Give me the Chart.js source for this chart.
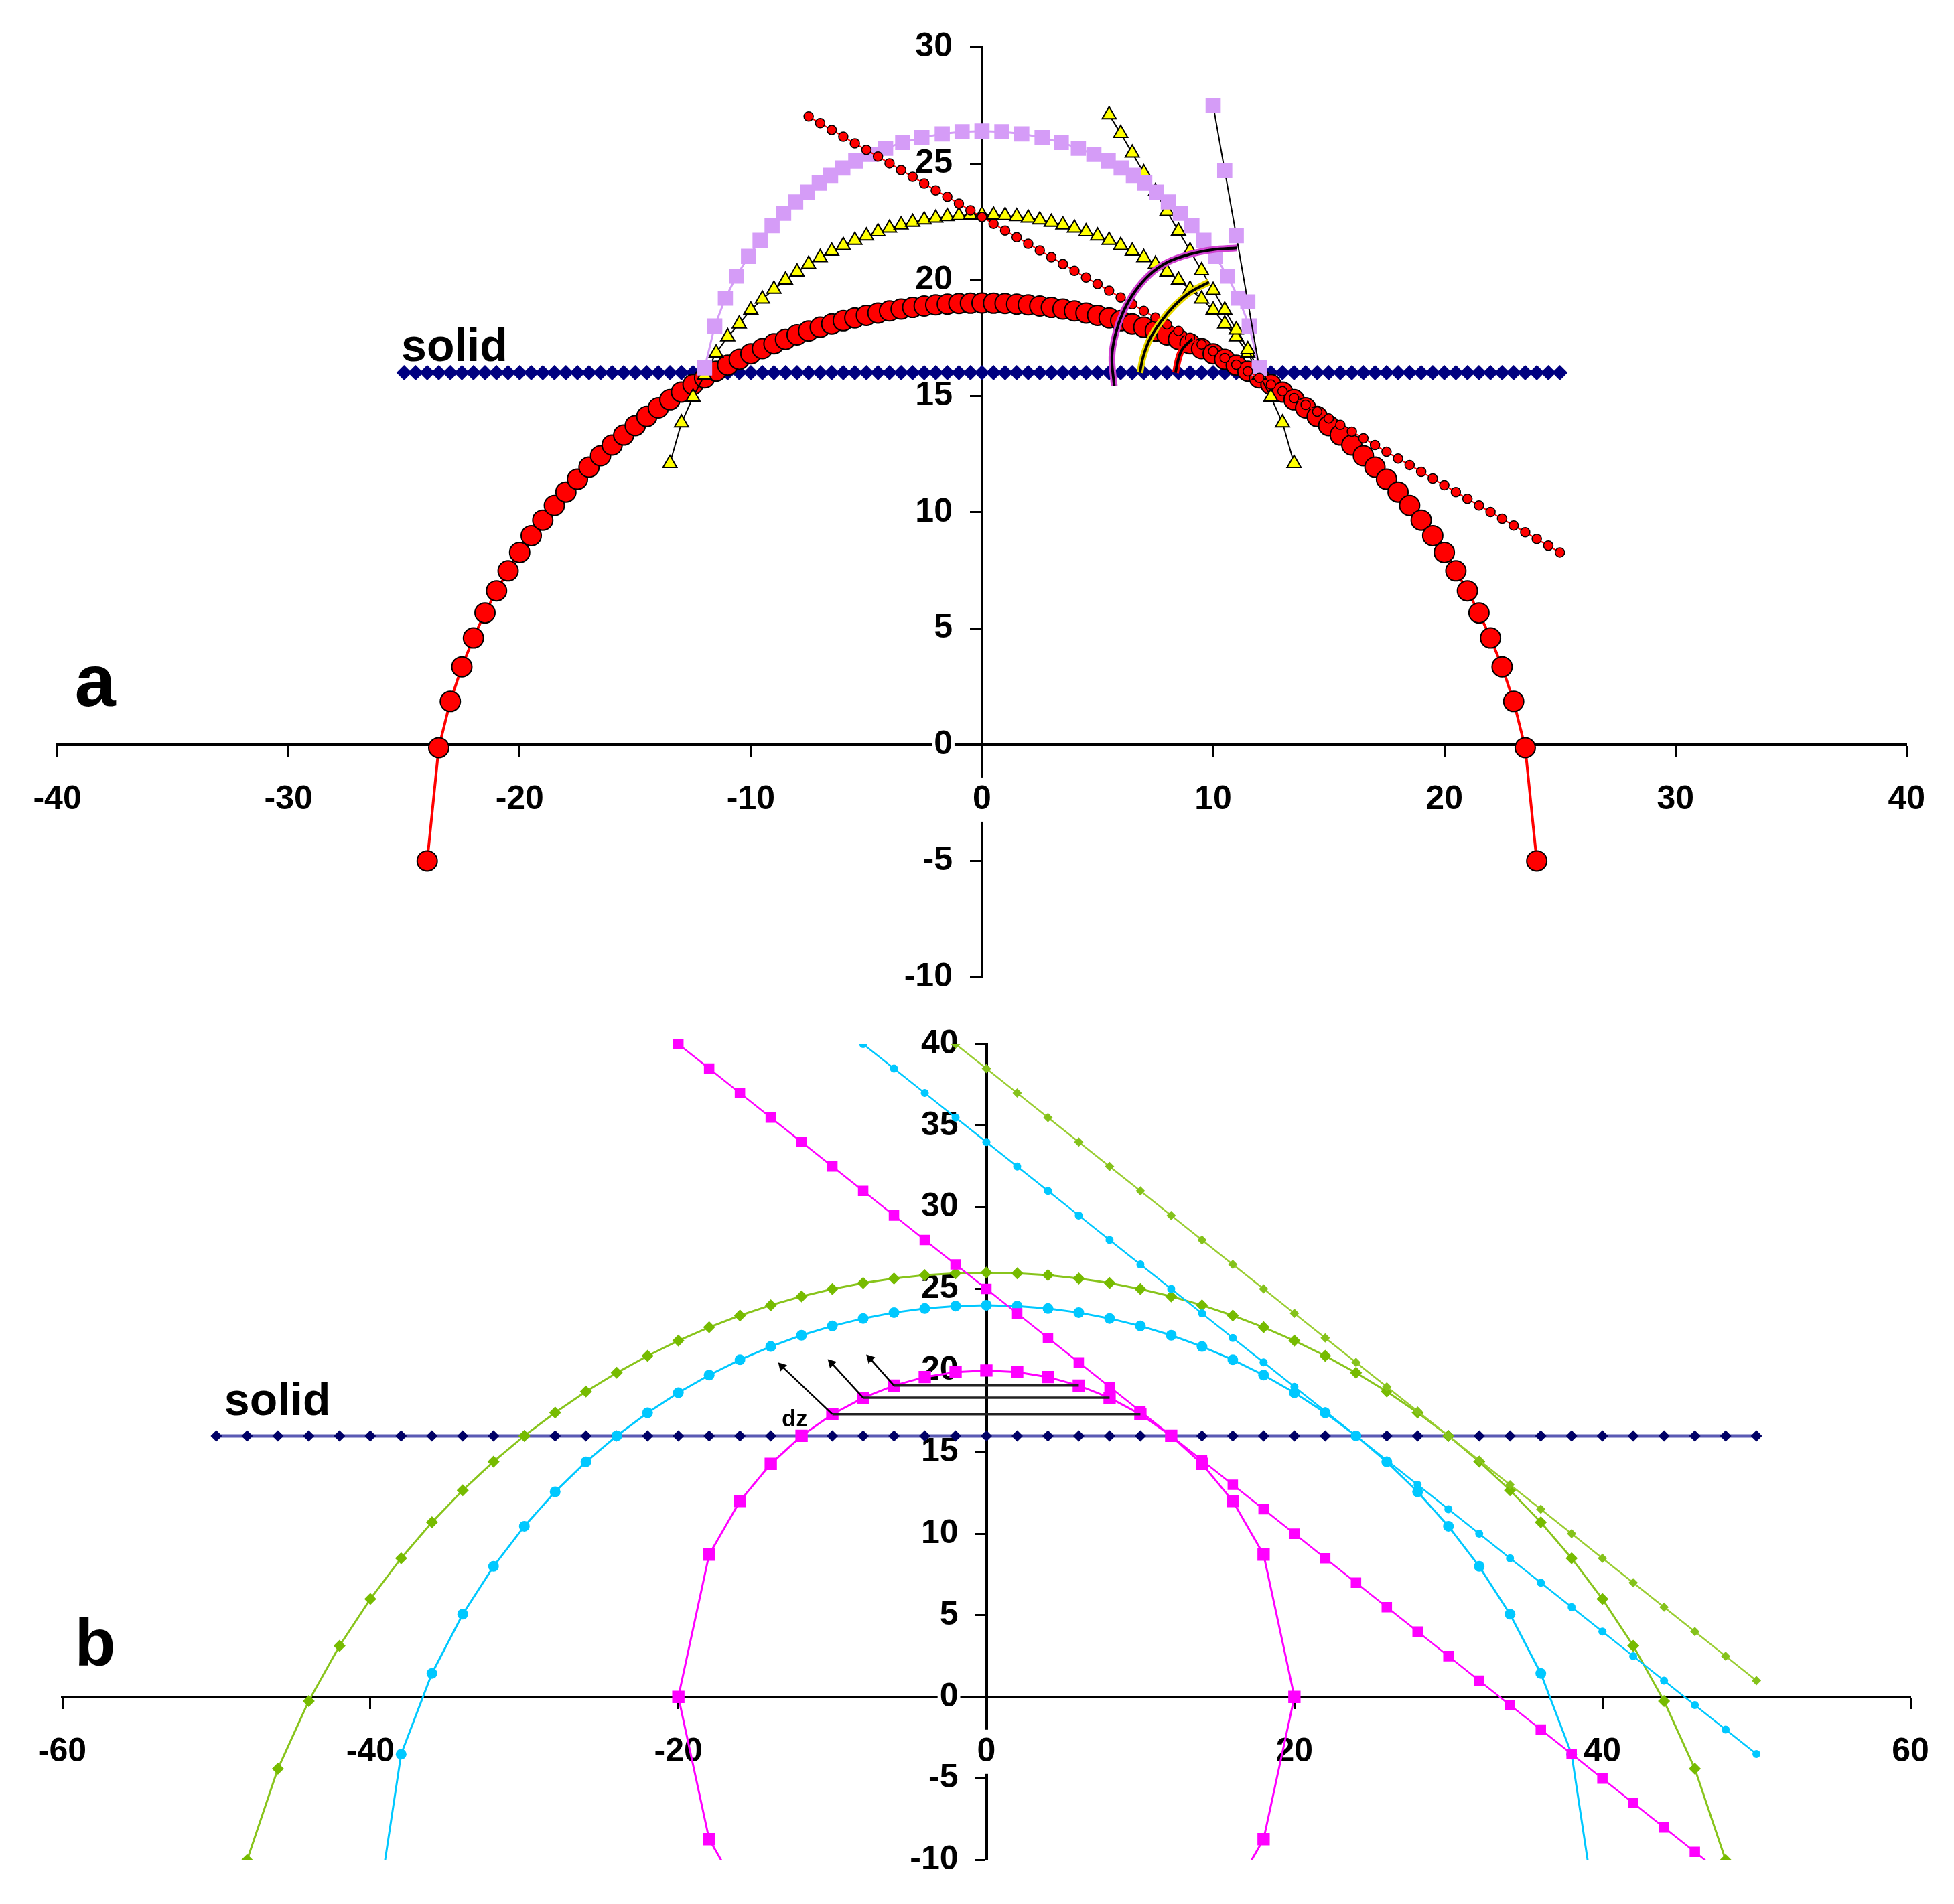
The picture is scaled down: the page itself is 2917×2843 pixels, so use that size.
<!DOCTYPE html>
<html>
<head>
<meta charset="utf-8">
<title>Arc profiles a / b</title>
<script src="https://cdn.jsdelivr.net/npm/chart.js@4.4.1/dist/chart.umd.min.js"></script>
<style>
  html, body { margin: 0; padding: 0; background: #fff; }
  #wrap { position: relative; width: 2917px; height: 2843px; }
  canvas { position: absolute; left: 0; }
  #chartA { top: 0; }
  #chartB { top: 1500px; }
</style>
</head>
<body>
<div id="wrap">
  <canvas id="chartA" width="2917" height="1515"></canvas>
  <canvas id="chartB" width="2917" height="1343"></canvas>
</div>
<script>
// ---------- panel a ----------
const A_X_TICKS = [-40, -30, -20, -10, 0, 10, 20, 30, 40];
const A_Y_TICKS = [-10, -5, 0, 5, 10, 15, 20, 25, 30];

const SOLID_A_LEVEL = 16;
const SOLID_A_X = [-25, -24.5, -24, -23.5, -23, -22.5, -22, -21.5, -21, -20.5,
  -20, -19.5, -19, -18.5, -18, -17.5, -17, -16.5, -16, -15.5,
  -15, -14.5, -14, -13.5, -13, -12.5, -12, -11.5, -11, -10.5,
  -10, -9.5, -9, -8.5, -8, -7.5, -7, -6.5, -6, -5.5,
  -5, -4.5, -4, -3.5, -3, -2.5, -2, -1.5, -1, -0.5,
  0, 0.5, 1, 1.5, 2, 2.5, 3, 3.5, 4, 4.5,
  5, 5.5, 6, 6.5, 7, 7.5, 8, 8.5, 9, 9.5,
  10, 10.5, 11, 11.5, 12, 12.5, 13, 13.5, 14, 14.5,
  15, 15.5, 16, 16.5, 17, 17.5, 18, 18.5, 19, 19.5,
  20, 20.5, 21, 21.5, 22, 22.5, 23, 23.5, 24, 24.5, 25];

const RED_ARC_X = [-24, -23.5, -23, -22.5, -22, -21.5, -21, -20.5,
  -20, -19.5, -19, -18.5, -18, -17.5, -17, -16.5, -16, -15.5,
  -15, -14.5, -14, -13.5, -13, -12.5, -12, -11.5, -11, -10.5,
  -10, -9.5, -9, -8.5, -8, -7.5, -7, -6.5, -6, -5.5,
  -5, -4.5, -4, -3.5, -3, -2.5, -2, -1.5, -1, -0.5,
  0, 0.5, 1, 1.5, 2, 2.5, 3, 3.5, 4, 4.5,
  5, 5.5, 6, 6.5, 7, 7.5, 8, 8.5, 9, 9.5,
  10, 10.5, 11, 11.5, 12, 12.5, 13, 13.5, 14, 14.5,
  15, 15.5, 16, 16.5, 17, 17.5, 18, 18.5, 19, 19.5,
  20, 20.5, 21, 21.5, 22, 22.5, 23, 23.5, 24];
const RED_ARC_Y = [-5.0, -0.13, 1.86, 3.35, 4.59, 5.67, 6.62, 7.48,
  8.27, 8.99, 9.66, 10.29, 10.87, 11.42, 11.94, 12.43, 12.89, 13.32,
  13.73, 14.12, 14.49, 14.84, 15.17, 15.49, 15.78, 16.07, 16.33, 16.58,
  16.82, 17.04, 17.25, 17.44, 17.63, 17.80, 17.96, 18.10, 18.24, 18.36,
  18.47, 18.57, 18.66, 18.74, 18.81, 18.87, 18.92, 18.95, 18.98, 18.99,
  19.0, 18.99, 18.98, 18.95, 18.92, 18.87, 18.81, 18.74, 18.66, 18.57,
  18.47, 18.36, 18.24, 18.10, 17.96, 17.80, 17.63, 17.44, 17.25, 17.04,
  16.82, 16.58, 16.33, 16.07, 15.78, 15.49, 15.17, 14.84, 14.49, 14.12,
  13.73, 13.32, 12.89, 12.43, 11.94, 11.42, 10.87, 10.29, 9.66, 8.99,
  8.27, 7.48, 6.62, 5.67, 4.59, 3.35, 1.86, -0.13, -5.0];

const RED_TAN_X = [-7.5, -7, -6.5, -6, -5.5, -5, -4.5, -4, -3.5, -3,
  -2.5, -2, -1.5, -1, -0.5, 0, 0.5, 1, 1.5, 2,
  2.5, 3, 3.5, 4, 4.5, 5, 5.5, 6, 6.5, 7,
  7.5, 8, 8.5, 9, 9.5, 10, 10.5, 11, 11.5, 12,
  12.5, 13, 13.5, 14, 14.5, 15, 15.5, 16, 16.5, 17,
  17.5, 18, 18.5, 19, 19.5, 20, 20.5, 21, 21.5, 22,
  22.5, 23, 23.5, 24, 24.5, 25];
const RED_TAN_Y = [27.03, 26.74, 26.45, 26.16, 25.87, 25.59, 25.30, 25.01, 24.72, 24.43,
  24.14, 23.85, 23.57, 23.28, 22.99, 22.70, 22.41, 22.12, 21.83, 21.55,
  21.26, 20.97, 20.68, 20.39, 20.10, 19.82, 19.53, 19.24, 18.95, 18.66,
  18.37, 18.08, 17.80, 17.51, 17.22, 16.93, 16.64, 16.35, 16.06, 15.78,
  15.49, 15.20, 14.91, 14.62, 14.33, 14.04, 13.76, 13.47, 13.18, 12.89,
  12.60, 12.31, 12.03, 11.74, 11.45, 11.16, 10.87, 10.58, 10.29, 10.01,
  9.72, 9.43, 9.14, 8.85, 8.56, 8.27];

const YEL_ARC_X = [-13.5, -13, -12.5, -12, -11.5, -11, -10.5, -10, -9.5, -9,
  -8.5, -8, -7.5, -7, -6.5, -6, -5.5, -5, -4.5, -4,
  -3.5, -3, -2.5, -2, -1.5, -1, -0.5, 0, 0.5, 1,
  1.5, 2, 2.5, 3, 3.5, 4, 4.5, 5, 5.5, 6,
  6.5, 7, 7.5, 8, 8.5, 9, 9.5, 10, 10.5, 11,
  11.5, 12, 12.5, 13, 13.5];
const YEL_ARC_Y = [12.10, 13.85, 14.95, 15.90, 16.85, 17.55, 18.10, 18.70, 19.17, 19.60,
  19.99, 20.34, 20.67, 20.96, 21.23, 21.48, 21.70, 21.89, 22.07, 22.23,
  22.36, 22.48, 22.58, 22.66, 22.72, 22.77, 22.79, 22.80, 22.79, 22.77,
  22.72, 22.66, 22.58, 22.48, 22.36, 22.23, 22.07, 21.89, 21.70, 21.48,
  21.23, 20.96, 20.67, 20.34, 19.99, 19.60, 19.17, 18.70, 18.10, 17.55,
  16.85, 15.90, 14.95, 13.85, 12.10];

const YEL_TAN_X = [5.5, 6, 6.5, 7, 7.5, 8, 8.5, 9, 9.5, 10, 10.5, 11, 11.5, 12];
const YEL_TAN_Y = [27.10, 26.30, 25.45, 24.60, 23.80, 22.95, 22.10, 21.25, 20.40, 19.55, 18.70, 17.85, 17.00, 16.10];

const LIL_ARC_X = [-12, -11.56, -11.1, -10.62, -10.1, -9.6, -9.08, -8.58, -8.06, -7.55,
  -7.04, -6.55, -6.02, -5.46, -4.84, -4.17, -3.43, -2.6, -1.72, -0.86,
  0, 0.86, 1.72, 2.6, 3.43, 4.17, 4.84, 5.46, 6.02, 6.55,
  7.04, 7.55, 8.06, 8.58, 9.08, 9.6, 10.1, 10.62, 11.1, 11.56, 12];
const LIL_ARC_Y = [16.21, 18.01, 19.21, 20.16, 21.01, 21.70, 22.33, 22.86, 23.35, 23.77,
  24.16, 24.49, 24.81, 25.11, 25.40, 25.66, 25.91, 26.12, 26.28, 26.37,
  26.40, 26.37, 26.28, 26.12, 25.91, 25.66, 25.40, 25.11, 24.81, 24.49,
  24.16, 23.77, 23.35, 22.86, 22.33, 21.70, 21.01, 20.16, 19.21, 18.01, 16.21];

const LIL_TAN_X = [10, 10.5, 11, 11.5, 12];
const LIL_TAN_Y = [27.5, 24.7, 21.9, 19.05, 16.2];

const PURPLE_MARK_X = [5.72, 5.62, 5.77, 6.1, 6.59, 7.26, 8.03, 9.0, 9.97, 11.03];
const PURPLE_MARK_Y = [15.43, 16.68, 17.64, 18.6, 19.46, 20.23, 20.76, 21.1, 21.29, 21.37];
const YELLOW_MARK_X = [6.83, 6.97, 7.26, 7.74, 8.32, 9.0, 9.82];
const YELLOW_MARK_Y = [16.0, 16.68, 17.45, 18.2, 18.88, 19.46, 19.9];
const RED_MARK_X = [8.37, 8.52, 8.7, 9.1];
const RED_MARK_Y = [16.0, 16.68, 17.06, 17.45];

// ---------- panel b ----------
const B_X_TICKS = [-60, -40, -20, 0, 20, 40, 60];
const B_Y_TICKS = [-10, -5, 0, 5, 10, 15, 20, 25, 30, 35, 40];

const SOLID_B_LEVEL = 16;
const SOLID_B_X = [-50, -48, -46, -44, -42, -40, -38, -36, -34, -32,
  -30, -28, -26, -24, -22, -20, -18, -16, -14, -12,
  -10, -8, -6, -4, -2, 0, 2, 4, 6, 8,
  10, 12, 14, 16, 18, 20, 22, 24, 26, 28,
  30, 32, 34, 36, 38, 40, 42, 44, 46, 48, 50];

const MAG_ARC_X = [-16, -18, -20, -18, -16, -14, -12, -10, -8, -6, -4, -2, 0,
  2, 4, 6, 8, 10, 12, 14, 16, 18, 20, 18, 16];
const MAG_ARC_Y = [-12, -8.72, 0, 8.72, 12, 14.28, 16, 17.32, 18.33, 19.08, 19.6, 19.9, 20,
  19.9, 19.6, 19.08, 18.33, 17.32, 16, 14.28, 12, 8.72, 0, -8.72, -12];

const MAG_TAN_X = [-20, -18, -16, -14, -12, -10, -8, -6, -4, -2,
  0, 2, 4, 6, 8, 10, 12, 14, 16, 18,
  20, 22, 24, 26, 28, 30, 32, 34, 36, 38,
  40, 42, 44, 46, 48];
const MAG_TAN_Y = [40, 38.5, 37, 35.5, 34, 32.5, 31, 29.5, 28, 26.5,
  25, 23.5, 22, 20.5, 19, 17.5, 16, 14.5, 13, 11.5,
  10, 8.5, 7, 5.5, 4, 2.5, 1, -0.5, -2, -3.5,
  -5, -6.5, -8, -9.5, -11];

const CYAN_ARC_X = [-40, -38, -36, -34, -32, -30, -28, -26, -24, -22,
  -20, -18, -16, -14, -12, -10, -8, -6, -4, -2,
  0, 2, 4, 6, 8, 10, 12, 14, 16, 18,
  20, 22, 24, 26, 28, 30, 32, 34, 36, 38, 40];
const CYAN_ARC_Y = [-16, -3.51, 1.44, 5.07, 8.0, 10.46, 12.57, 14.40, 16.0, 17.41,
  18.64, 19.72, 20.66, 21.47, 22.16, 22.73, 23.19, 23.55, 23.80, 23.95,
  24, 23.95, 23.80, 23.55, 23.19, 22.73, 22.16, 21.47, 20.66, 19.72,
  18.64, 17.41, 16.0, 14.40, 12.57, 10.46, 8.0, 5.07, 1.44, -3.51, -16];

const CYAN_TAN_X = [-8, -6, -4, -2, 0, 2, 4, 6, 8, 10,
  12, 14, 16, 18, 20, 22, 24, 26, 28, 30,
  32, 34, 36, 38, 40, 42, 44, 46, 48, 50];
const CYAN_TAN_Y = [40, 38.5, 37, 35.5, 34, 32.5, 31, 29.5, 28, 26.5,
  25, 23.5, 22, 20.5, 19, 17.5, 16, 14.5, 13, 11.5,
  10, 8.5, 7, 5.5, 4, 2.5, 1, -0.5, -2, -3.5];

const GREEN_ARC_X = [-48, -46, -44, -42, -40, -38, -36, -34, -32, -30,
  -28, -26, -24, -22, -20, -18, -16, -14, -12, -10,
  -8, -6, -4, -2, 0, 2, 4, 6, 8, 10,
  12, 14, 16, 18, 20, 22, 24, 26, 28, 30,
  32, 34, 36, 38, 40, 42, 44, 46, 48];
const GREEN_ARC_Y = [-10.0, -4.40, -0.25, 3.13, 6.0, 8.50, 10.70, 12.66, 14.42, 16.0,
  17.42, 18.71, 19.86, 20.90, 21.83, 22.65, 23.37, 24.0, 24.54, 24.99,
  25.36, 25.64, 25.84, 25.96, 26, 25.96, 25.84, 25.64, 25.36, 24.99,
  24.54, 24.0, 23.37, 22.65, 21.83, 20.90, 19.86, 18.71, 17.42, 16.0,
  14.42, 12.66, 10.70, 8.50, 6.0, 3.13, -0.25, -4.40, -10.0];

const GREEN_TAN_X = [-2, 0, 2, 4, 6, 8, 10, 12, 14, 16,
  18, 20, 22, 24, 26, 28, 30, 32, 34, 36,
  38, 40, 42, 44, 46, 48, 50];
const GREEN_TAN_Y = [40, 38.5, 37, 35.5, 34, 32.5, 31, 29.5, 28, 26.5,
  25, 23.5, 22, 20.5, 19, 17.5, 16, 14.5, 13, 11.5,
  10, 8.5, 7, 5.5, 4, 2.5, 1];

// dz construction: chords between symmetric points and the arrows leaving them
const DZ_CHORD_LEFT = [-6, -8, -10];
const DZ_CHORD_RIGHT = [6, 8, 10];
const DZ_CHORD_Y = [19.08, 18.33, 17.32];
const ARROW_TIP_X = [-7.56, -10.06, -13.28];
const ARROW_TIP_Y = [20.74, 20.46, 20.26];

// ---------- helpers ----------
function pts(xs, ys) { return xs.map((x, i) => ({ x: x, y: ys[i] })); }
function level(xs, v) { return xs.map(x => ({ x: x, y: v })); }

const FONT = '"Liberation Sans", Arial, sans-serif';

const panelText = {
  id: 'panelText',
  afterDatasetsDraw(chart, args, opts) {
    const { ctx, scales } = chart;
    ctx.save();
    ctx.fillStyle = '#000';
    ctx.textAlign = 'left';
    ctx.textBaseline = 'alphabetic';
    (opts.items || []).forEach(t => {
      ctx.font = 'bold ' + t.size + 'px ' + FONT;
      ctx.fillText(t.text, scales.x.getPixelForValue(t.x), scales.y.getPixelForValue(t.y));
    });
    ctx.restore();
  }
};

// a y axis placed at x = 0 puts its labels right on the line; move them left of the tick marks
const yLabelGap = {
  id: 'yLabelGap',
  beforeDraw(chart, args, opts) {
    const s = chart.scales.y;
    const items = s.getLabelItems(chart.chartArea);
    if (s._gapDone === items) return;
    items.forEach(it => { it.options.translation[0] -= opts.dx; });
    s._gapDone = items;
  }
};

function axes(xMin, xMax, xTicks, yMin, yMax, yTicks) {
  const tickFont = { family: FONT, size: 50, weight: 'bold' };
  const grid = { drawOnChartArea: false, drawTicks: true, tickLength: 16, tickWidth: 3, tickColor: '#000', z: -1 };
  const border = { display: true, color: '#000', width: 4, z: -1 };
  return {
    y: {
      type: 'linear', position: { x: 0 }, min: yMin, max: yMax, grid: grid, border: border,
      afterBuildTicks: s => { s.ticks = yTicks.map(v => ({ value: v })); },
      ticks: { font: tickFont, color: '#000', padding: 26, z: 0,
               showLabelBackdrop: true, backdropColor: '#fff', backdropPadding: 3 }
    },
    x: {
      type: 'linear', position: { y: 0 }, min: xMin, max: xMax, grid: grid, border: border,
      afterBuildTicks: s => { s.ticks = xTicks.map(v => ({ value: v })); },
      ticks: { font: tickFont, color: '#000', padding: 36, z: 0, maxRotation: 0,
               showLabelBackdrop: true, backdropColor: '#fff', backdropPadding: 3 }
    }
  };
}

function baseOptions(padding, scales, texts, gap) {
  return {
    responsive: false,
    animation: false,
    devicePixelRatio: 1,
    layout: { padding: padding },
    scales: scales,
    plugins: {
      legend: { display: false },
      tooltip: { enabled: false },
      panelText: { items: texts },
      yLabelGap: { dx: gap }
    }
  };
}

// ---------- chart a ----------
const dsA = [
  { data: level(SOLID_A_X, SOLID_A_LEVEL), showLine: true, borderColor: '#000080', borderWidth: 5,
    pointStyle: 'rectRot', pointRadius: 11.5, pointBackgroundColor: '#000080', pointBorderWidth: 0, order: 10 },
  { data: pts(RED_ARC_X, RED_ARC_Y), showLine: true, borderColor: '#ff0000', borderWidth: 4,
    pointStyle: 'circle', pointRadius: 15, pointBackgroundColor: '#ff0000', pointBorderColor: '#000', pointBorderWidth: 2, order: 9 },
  { data: pts(YEL_ARC_X, YEL_ARC_Y), showLine: true, borderColor: '#000', borderWidth: 2,
    pointStyle: 'triangle', pointRadius: 12, pointBackgroundColor: '#ffff00', pointBorderColor: '#000', pointBorderWidth: 2, order: 8 },
  { data: pts(YEL_TAN_X, YEL_TAN_Y), showLine: true, borderColor: '#000', borderWidth: 2,
    pointStyle: 'triangle', pointRadius: 12, pointBackgroundColor: '#ffff00', pointBorderColor: '#000', pointBorderWidth: 2, order: 7 },
  { data: pts(LIL_ARC_X, LIL_ARC_Y), showLine: true, borderColor: '#d59cf7', borderWidth: 3,
    pointStyle: 'rect', pointRadius: 16, pointBackgroundColor: '#d59cf7', pointBorderWidth: 0, order: 6 },
  { data: pts(LIL_TAN_X, LIL_TAN_Y), showLine: true, borderColor: '#000', borderWidth: 2,
    pointStyle: 'rect', pointRadius: 16, pointBackgroundColor: '#d59cf7', pointBorderWidth: 0, order: 5 },
  { data: pts(RED_TAN_X, RED_TAN_Y), showLine: true, borderColor: '#ff0000', borderWidth: 2,
    pointStyle: 'circle', pointRadius: 7, pointBackgroundColor: '#ff0000', pointBorderColor: '#000', pointBorderWidth: 1.5, order: 4 },
  // angle marks
  { data: pts(PURPLE_MARK_X, PURPLE_MARK_Y), showLine: true, borderColor: '#d040d0', borderWidth: 10, tension: 0.4, pointRadius: 0, order: 3 },
  { data: pts(PURPLE_MARK_X, PURPLE_MARK_Y), showLine: true, borderColor: '#000', borderWidth: 4, tension: 0.4, pointRadius: 0, order: 2 },
  { data: pts(YELLOW_MARK_X, YELLOW_MARK_Y), showLine: true, borderColor: '#e8d800', borderWidth: 10, tension: 0.4, pointRadius: 0, order: 3 },
  { data: pts(YELLOW_MARK_X, YELLOW_MARK_Y), showLine: true, borderColor: '#000', borderWidth: 4, tension: 0.4, pointRadius: 0, order: 2 },
  { data: pts(RED_MARK_X, RED_MARK_Y), showLine: true, borderColor: '#ff0000', borderWidth: 10, tension: 0.4, pointRadius: 0, order: 3 },
  { data: pts(RED_MARK_X, RED_MARK_Y), showLine: true, borderColor: '#000', borderWidth: 4, tension: 0.4, pointRadius: 0, order: 2 }
];

new Chart(document.getElementById('chartA'), {
  type: 'scatter',
  data: { datasets: dsA },
  options: baseOptions(
    { left: 85.6, right: 70.7, top: 70.7, bottom: 55.3 },
    axes(-40, 40, A_X_TICKS, -10, 30, A_Y_TICKS),
    [ { text: 'a', x: -39.25, y: 1.66, size: 110 },
      { text: 'solid', x: -25.12, y: 16.5, size: 68 } ],
    44
  ),
  plugins: [panelText, yLabelGap]
});

// ---------- chart b ----------
const clipBottom = { left: 30, top: 30, right: 30, bottom: 0 };
const dsB = [
  { data: level(SOLID_B_X, SOLID_B_LEVEL), showLine: true, borderColor: '#5a5ab4', borderWidth: 5,
    pointStyle: 'rectRot', pointRadius: 8.5, pointBackgroundColor: '#000066', pointBorderWidth: 0, order: 10 },
  { data: pts(GREEN_ARC_X, GREEN_ARC_Y), showLine: true, borderColor: '#88c41c', borderWidth: 3,
    pointStyle: 'rectRot', pointRadius: 9, pointBackgroundColor: '#76bb00', pointBorderWidth: 0, order: 9 },
  { data: pts(GREEN_TAN_X, GREEN_TAN_Y), showLine: true, borderColor: '#9acd32', borderWidth: 2.5,
    pointStyle: 'rectRot', pointRadius: 7, pointBackgroundColor: '#84c21a', pointBorderWidth: 0, order: 8 },
  { data: pts(CYAN_ARC_X, CYAN_ARC_Y), showLine: true, borderColor: '#00c8ff', borderWidth: 3, clip: clipBottom,
    pointStyle: 'circle', pointRadius: 8, pointBackgroundColor: '#00c8ff', pointBorderWidth: 0, order: 7 },
  { data: pts(CYAN_TAN_X, CYAN_TAN_Y), showLine: true, borderColor: '#00c8ff', borderWidth: 2.5,
    pointStyle: 'circle', pointRadius: 6, pointBackgroundColor: '#00c8ff', pointBorderWidth: 0, order: 6 },
  { data: pts(MAG_ARC_X, MAG_ARC_Y), showLine: true, borderColor: '#ff00ff', borderWidth: 3, clip: clipBottom,
    pointStyle: 'rect', pointRadius: 13, pointBackgroundColor: '#ff00ff', pointBorderWidth: 0, order: 5 },
  { data: pts(MAG_TAN_X, MAG_TAN_Y), showLine: true, borderColor: '#ff00ff', borderWidth: 2.5, clip: clipBottom,
    pointStyle: 'rect', pointRadius: 11, pointBackgroundColor: '#ff00ff', pointBorderWidth: 0, order: 4 }
];
DZ_CHORD_Y.forEach((yv, i) => {
  dsB.push({ data: [{ x: DZ_CHORD_LEFT[i], y: yv }, { x: DZ_CHORD_RIGHT[i], y: yv }], showLine: true,
    borderColor: '#222', borderWidth: 3.5, pointRadius: 0, order: 2 });
  dsB.push({ data: [{ x: DZ_CHORD_LEFT[i], y: yv }, { x: ARROW_TIP_X[i], y: ARROW_TIP_Y[i] }], showLine: true,
    borderColor: '#000', borderWidth: 2.5, pointStyle: 'triangle', pointRadius: [0, 8],
    pointRotation: -44, pointBackgroundColor: '#000', pointBorderWidth: 0, order: 1 });
});

new Chart(document.getElementById('chartB'), {
  type: 'scatter',
  data: { datasets: dsB },
  options: baseOptions(
    { left: 93, right: 65, top: 59, bottom: 65.5 },
    axes(-60, 60, B_X_TICKS, -10, 40, B_Y_TICKS),
    [ { text: 'b', x: -59.2, y: 1.92, size: 100 },
      { text: 'solid', x: -49.48, y: 17.26, size: 68 },
      { text: 'dz', x: -13.29, y: 16.57, size: 35 } ],
    42
  ),
  plugins: [panelText, yLabelGap]
});
</script>
</body>
</html>
